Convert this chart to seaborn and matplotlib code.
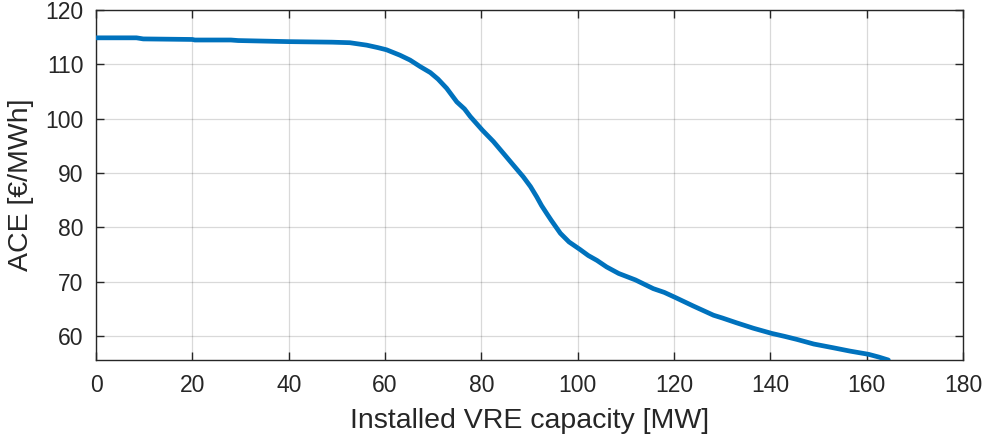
import matplotlib
matplotlib.use("Agg")
import matplotlib.pyplot as plt
import seaborn as sns
import pandas as pd

# Average cost of electricity versus installed variable renewable capacity
capacity_mw = [0, 8.4, 9.8, 20, 20.5, 28, 29.5, 40, 49, 52.7, 56.2, 58.5, 60.3,
               63.1, 65.2, 67.3, 69.4, 71, 72.8, 74.9, 76.5, 77.7, 80.2, 82.5,
               84.6, 86.5, 88.7, 90.2, 91.5, 92.5, 93.6, 94.5, 96.4, 98.2,
               100.5, 102.2, 104, 106, 108.5, 112, 115.7, 118, 120.2, 124,
               128.2, 130, 133, 136.5, 140.3, 143, 145.5, 149, 153.1, 156.5,
               160.4, 162.5, 164.5]
ace_eur_mwh = [114.9, 114.9, 114.7, 114.6, 114.5, 114.5, 114.4, 114.2, 114.1,
               114.0, 113.55, 113.1, 112.7, 111.7, 110.8, 109.6, 108.5, 107.3,
               105.6, 103.1, 101.8, 100.4, 97.9, 95.8, 93.6, 91.6, 89.3, 87.5,
               85.6, 84.0, 82.5, 81.3, 78.9, 77.3, 75.9, 74.8, 73.9, 72.7,
               71.5, 70.3, 68.7, 68.0, 67.1, 65.5, 63.8, 63.3, 62.4, 61.4,
               60.45, 59.9, 59.35, 58.5, 57.8, 57.2, 56.6, 56.1, 55.55]

x_ticks = [0, 20, 40, 60, 80, 100, 120, 140, 160, 180]
y_ticks = [60, 70, 80, 90, 100, 110, 120]

df = pd.DataFrame({"capacity": capacity_mw, "ace": ace_eur_mwh})

sns.set_theme(style="white")
plt.rcParams["font.family"] = ["Liberation Sans", "DejaVu Sans"]

text_col = "#262626"
fig = plt.figure(figsize=(9.87, 4.41), dpi=100)
ax = fig.add_axes([0.0973, 0.183, 0.8784, 0.794])

sns.lineplot(data=df, x="capacity", y="ace", ax=ax, color="#0072BD",
             linewidth=3.4, zorder=3)

ax.set_xlim(0, 180)
ax.set_ylim(55.5, 120)
ax.set_xticks(x_ticks)
ax.set_yticks(y_ticks)
ax.grid(True, color="#000000", alpha=0.15, linewidth=0.9)

for side in ["top", "bottom", "left", "right"]:
    ax.spines[side].set_visible(True)
    ax.spines[side].set_color(text_col)
    ax.spines[side].set_linewidth(1.0)

ax.tick_params(axis="both", which="both", direction="in", length=6,
               width=1.0, color=text_col, labelcolor=text_col,
               labelsize=16.5, top=True, right=True, bottom=True, left=True)
ax.tick_params(axis="x", pad=10)
ax.tick_params(axis="y", pad=9)

ax.set_xlabel("Installed VRE capacity [MW]", fontsize=20.5, color=text_col,
              labelpad=8)
ax.set_ylabel("ACE [€/MWh]", fontsize=20.5, color=text_col, labelpad=8)

fig.savefig("out.png", dpi=100)
